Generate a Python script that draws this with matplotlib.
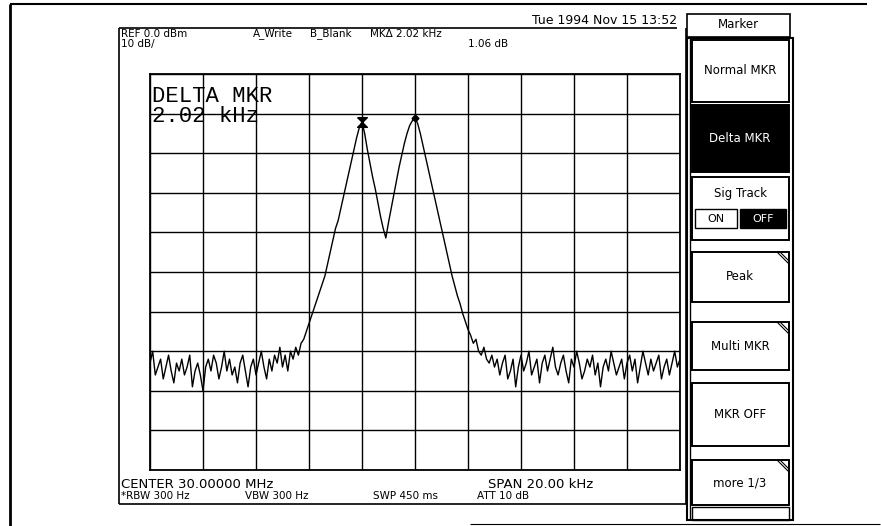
import matplotlib.pyplot as plt
from matplotlib.patches import Rectangle
from matplotlib.path import Path
import numpy as np

W, H = 881, 526  # output size in pixels

# sweep: 30 MHz centre, 20 kHz span; levels (dBm)
span_khz = 20.0
ref_dbm = 0.0
db_per_div = 10
level_dbm = [
    -73, -70, -76, -74, -72, -77, -74, -71, -75, -78,
    -73, -75, -72, -76, -74, -71, -79, -75, -73, -76,
    -80, -74, -72, -75, -71, -73, -77, -74, -70, -75,
    -72, -76, -74, -78, -73, -71, -75, -79, -74, -72,
    -76, -73, -70, -74, -77, -72, -75, -71, -73, -69,
    -74, -71, -75, -70, -72, -69, -71, -68, -67, -65,
    -63, -61, -59, -57, -55, -53, -51, -48, -45, -42,
    -39, -37, -34, -31, -28, -25, -22, -19, -16, -13.5,
    -12.1, -15, -19, -22.5, -26, -29, -32.5, -36, -39, -41.4,
    -37.5, -34, -30.5, -27, -23.5, -20.5, -17.5, -15, -13, -11.8,
    -11.1, -12.5, -15, -18, -21, -24, -27, -30, -33, -36,
    -39, -42, -45, -48, -51, -53.5, -56, -58, -60.5, -62.5,
    -64.5, -66, -68, -67, -70, -71, -69, -72, -73, -71,
    -74, -72, -76, -73, -71, -77, -75, -72, -79, -74,
    -71, -75, -73, -70, -76, -74, -72, -78, -73, -71,
    -75, -72, -69, -74, -76, -73, -71, -75, -78, -72,
    -74, -70, -73, -77, -75, -72, -74, -71, -76, -73,
    -79, -74, -72, -75, -70, -73, -76, -74, -72, -77,
    -73, -71, -75, -72, -78, -74, -70, -73, -76, -72,
    -75, -73, -71, -77, -74, -72, -76, -73, -70, -74,
    -72,
]
freq_khz = np.linspace(-span_khz / 2, span_khz / 2, len(level_dbm))

# marker positions (kHz offset): delta reference and active marker
mkr_khz = [-2.0, 0.0]

header_left = ["REF 0.0 dBm", "10 dB/"]
footer_top = [("CENTER 30.00000 MHz", 121), ("SPAN 20.00 kHz", 488)]
footer_bottom = [("*RBW 300 Hz", 121), ("VBW 300 Hz", 245), ("SWP 450 ms", 373), ("ATT 10 dB", 477)]

SANS = "DejaVu Sans"
MONO = "Liberation Mono"

fig = plt.figure(figsize=(W / 100, H / 100), dpi=100)

# overlay in pixel coordinates for the instrument frame and soft keys
ov = fig.add_axes([0, 0, 1, 1])
ov.set_xlim(0, W)
ov.set_ylim(H, 0)
ov.axis("off")


def line(x0, y0, x1, y1, lw=1.0, color="black"):
    ov.plot([x0, x1], [y0, y1], color=color, lw=lw, solid_capstyle="butt")


def box(x0, y0, x1, y1, lw=1.2, fill=None):
    ov.add_patch(Rectangle((x0, y0), x1 - x0, y1 - y0, lw=lw, edgecolor="black",
                           facecolor=fill if fill else "none"))


def dog_ear(x1, y0):
    for d in (0, 3):
        line(x1 - 12 + d, y0, x1, y0 + 12 - d, lw=0.8)


# outer page frame and screen frame
line(10, 4, 10, 526, lw=2.0)
line(10, 4, 867, 4, lw=1.5)
line(470, 524, 880, 524, lw=0.8)
line(119, 28, 677, 28, lw=1.2)
line(119, 28, 119, 504, lw=1.2)
line(119, 504, 686, 504, lw=1.2)
line(686, 28, 686, 504, lw=1.2)

# header texts
ov.text(677, 20, "Tue 1994 Nov 15 13:52", ha="right", va="center", fontsize=9, family=SANS)
ov.text(121, 34, header_left[0], ha="left", va="center", fontsize=7.5, family=SANS)
ov.text(121, 44, header_left[1], ha="left", va="center", fontsize=7.5, family=SANS)
ov.text(253, 34, "A_Write", ha="left", va="center", fontsize=7.5, family=SANS)
ov.text(310, 34, "B_Blank", ha="left", va="center", fontsize=7.5, family=SANS)
ov.text(370, 34, "MK\u0394 2.02 kHz", ha="left", va="center", fontsize=7.5, family=SANS)
ov.text(508, 44, "1.06 dB", ha="right", va="center", fontsize=7.5, family=SANS)

# footer texts
for label, x in footer_top:
    ov.text(x, 485, label, ha="left", va="center", fontsize=9.5, family=SANS)
for label, x in footer_bottom:
    ov.text(x, 496, label, ha="left", va="center", fontsize=7.5, family=SANS)

# soft key panel
box(687, 14, 790, 37, lw=1.2)
ov.text(738, 25, "Marker", ha="center", va="center", fontsize=8.5, family=SANS)
box(687, 38, 793, 520, lw=1.5)
line(690, 38, 690, 520, lw=1.0)

keys = [
    ("Normal MKR", 40, 102, False, False),
    ("Delta MKR", 105, 172, True, False),
    ("Peak", 252, 302, False, True),
    ("Multi MKR", 322, 370, False, True),
    ("MKR OFF", 383, 446, False, False),
    ("more 1/3", 460, 505, False, True),
]
for label, y0, y1, active, more in keys:
    box(692, y0, 789, y1, lw=1.4, fill="black" if active else None)
    ov.text(740, (y0 + y1) / 2, label, ha="center", va="center", fontsize=8.5,
            family=SANS, color="white" if active else "black")
    if more:
        dog_ear(789, y0)
box(692, 507, 789, 520, lw=1.0)

# Sig Track toggle
box(692, 177, 789, 240, lw=1.4)
ov.text(740, 193, "Sig Track", ha="center", va="center", fontsize=8.5, family=SANS)
box(695, 209, 737, 228, lw=1.0)
ov.text(716, 218.5, "ON", ha="center", va="center", fontsize=8, family=SANS)
box(740, 209, 786, 228, lw=1.0, fill="black")
ov.text(763, 218.5, "OFF", ha="center", va="center", fontsize=8, family=SANS, color="white")

# graticule and trace
gx0, gx1, gy0, gy1 = 150, 680, 74, 470
ax = fig.add_axes([gx0 / W, 1 - gy1 / H, (gx1 - gx0) / W, (gy1 - gy0) / H])
ax.set_facecolor("none")
ax.set_xlim(-span_khz / 2, span_khz / 2)
ax.set_ylim(ref_dbm - 10 * db_per_div, ref_dbm)
ax.set_xticks(np.arange(-span_khz / 2, span_khz / 2 + 0.1, span_khz / 10))
ax.set_yticks(np.arange(ref_dbm - 10 * db_per_div, ref_dbm + 1, db_per_div))
ax.tick_params(length=0, labelbottom=False, labelleft=False)
ax.grid(True, color="black", lw=1.0)
for s in ax.spines.values():
    s.set_linewidth(1.3)

ax.plot(freq_khz, level_dbm, color="black", lw=1.0)

lv = dict(zip(np.round(freq_khz, 2), level_dbm))
hourglass = Path([(-1, 1), (1, 1), (0, 0), (-1, -1), (1, -1), (0, 0), (-1, 1)])
ax.plot(mkr_khz[0], lv[round(mkr_khz[0], 2)], marker=hourglass, ms=7, color="black")
ax.plot(mkr_khz[1], lv[round(mkr_khz[1], 2)], marker="D", ms=3.5, color="black")

# on-screen marker readout (pixel rows 96 and 117)
ov.text(152, 96, "DELTA MKR", ha="left", va="center", fontsize=16, family=MONO)
ov.text(152, 117, "2.02 kHz", ha="left", va="center", fontsize=16, family=MONO)

fig.savefig("out.png", dpi=100, facecolor="white")
